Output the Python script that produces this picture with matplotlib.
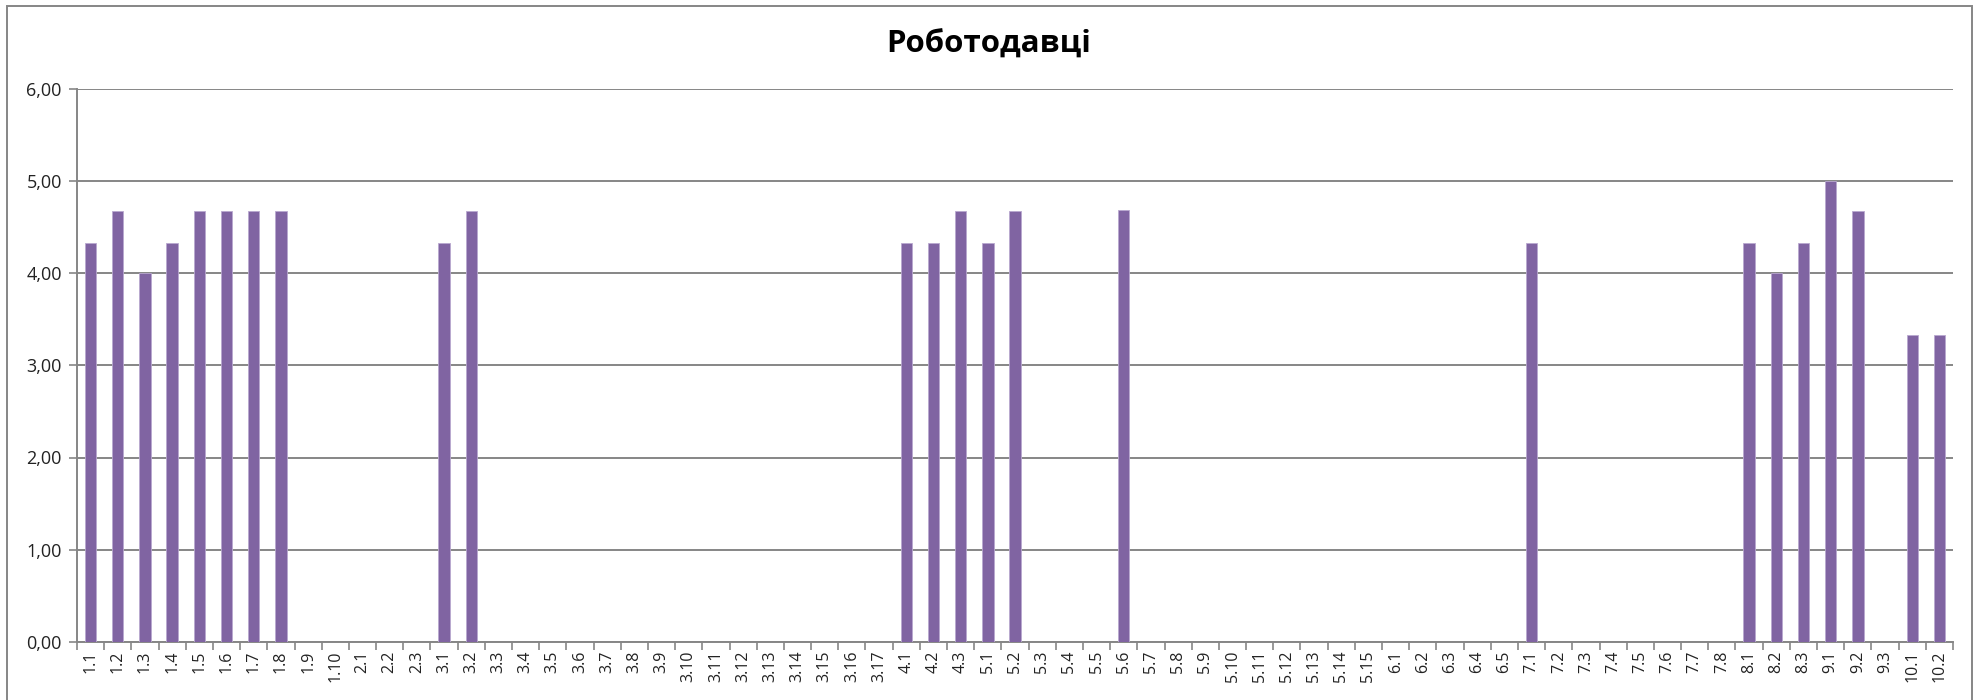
import matplotlib
matplotlib.use("Agg")
import matplotlib.pyplot as plt
from matplotlib.patches import Rectangle
import numpy as np

categories = ["1.1", "1.2", "1.3", "1.4", "1.5", "1.6", "1.7", "1.8", "1.9", "1.10",
              "2.1", "2.2", "2.3",
              "3.1", "3.2", "3.3", "3.4", "3.5", "3.6", "3.7", "3.8", "3.9", "3.10",
              "3.11", "3.12", "3.13", "3.14", "3.15", "3.16", "3.17",
              "4.1", "4.2", "4.3",
              "5.1", "5.2", "5.3", "5.4", "5.5", "5.6", "5.7", "5.8", "5.9", "5.10",
              "5.11", "5.12", "5.13", "5.14", "5.15",
              "6.1", "6.2", "6.3", "6.4", "6.5",
              "7.1", "7.2", "7.3", "7.4", "7.5", "7.6", "7.7", "7.8",
              "8.1", "8.2", "8.3",
              "9.1", "9.2", "9.3",
              "10.1", "10.2"]

nonzero = {"1.1": 4.33, "1.2": 4.67, "1.3": 4.00, "1.4": 4.33, "1.5": 4.67,
           "1.6": 4.67, "1.7": 4.67, "1.8": 4.67,
           "3.1": 4.33, "3.2": 4.67,
           "4.1": 4.33, "4.2": 4.33, "4.3": 4.67,
           "5.1": 4.33, "5.2": 4.67, "5.6": 4.68,
           "7.1": 4.33,
           "8.1": 4.33, "8.2": 4.00, "8.3": 4.33,
           "9.1": 5.00, "9.2": 4.67,
           "10.1": 3.33, "10.2": 3.33}
values = [nonzero.get(c, 0.0) for c in categories]

yticks = [0, 1, 2, 3, 4, 5, 6]
ytick_labels = ["0,00", "1,00", "2,00", "3,00", "4,00", "5,00", "6,00"]
title = "Роботодавці"

plt.rcParams['font.family'] = ['Open Sans', 'DejaVu Sans']

W, H = 1978, 700
fig = plt.figure(figsize=(W / 100, H / 100), dpi=100)
ax = fig.add_axes([77 / W, 1 - 642 / H, (1953 - 77) / W, (642 - 88.5) / H])

grid_c = "#868686"
x = np.arange(len(categories))
ax.bar(x, values, width=0.42, color="#8064A2", edgecolor="#B9A8CF", linewidth=0.6, zorder=3)

ax.set_xlim(-0.5, len(categories) - 0.5)
ax.set_ylim(0, 6)
ax.set_yticks(yticks)
ax.set_yticklabels(ytick_labels, fontsize=13, color="#222222")
ax.set_xticks(x)
ax.set_xticklabels(categories, rotation=90, fontsize=11.5, color="#222222")
ax.tick_params(axis='x', length=0, pad=6)
ax.set_xticks(np.arange(-0.5, len(categories), 1.0), minor=True)
ax.tick_params(axis='x', which='minor', length=6, color=grid_c, width=1.2, direction='out')
ax.tick_params(axis='y', length=6, color=grid_c, width=1.2, direction='out', pad=5)

ax.yaxis.grid(True, color=grid_c, linewidth=1.4, zorder=0)
ax.set_axisbelow(True)
for s in ["top", "right"]:
    ax.spines[s].set_visible(False)
for s in ["left", "bottom"]:
    ax.spines[s].set_color(grid_c)
    ax.spines[s].set_linewidth(1.4)

fig.text(0.5, 1 - 45 / H, title, ha='center', va='center', fontsize=22.5, fontweight='bold')

fig.patches.append(Rectangle((7 / W, -0.05), (1972 - 7) / W, 1 - 6 / H + 0.05,
                             transform=fig.transFigure, fill=False,
                             edgecolor=grid_c, linewidth=1.4))

fig.savefig("out.png", dpi=100)
